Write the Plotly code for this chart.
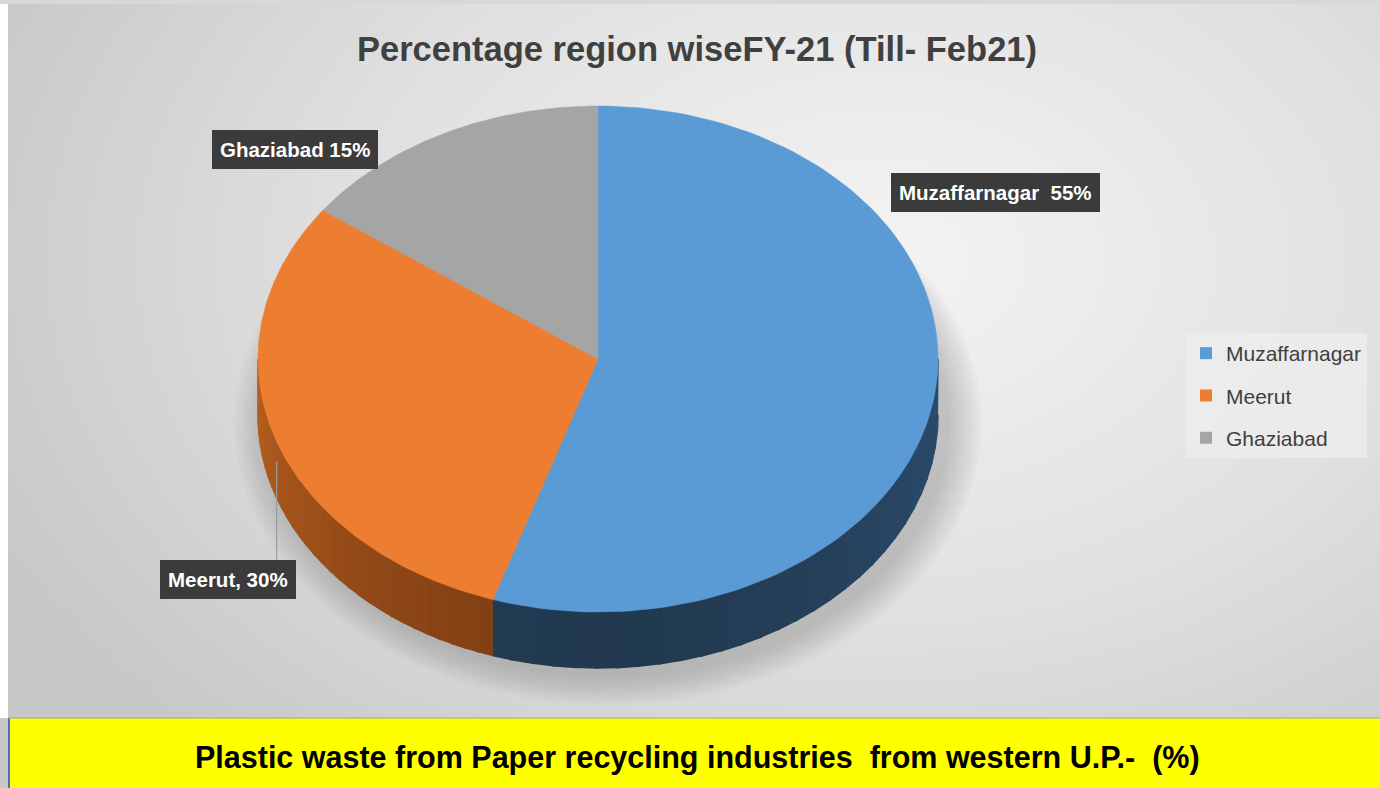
import numpy as np
import plotly.graph_objects as go

# Share of plastic waste by region, FY-21 (till Feb-21)
regions = ["Muzaffarnagar", "Meerut", "Ghaziabad"]
shares = [55, 30, 15]
label_texts = ["Muzaffarnagar  55%", "Meerut, 30%", "Ghaziabad 15%"]

top_colors = ["#5b9bd5", "#ed7d31", "#a5a5a5"]
side_dark = ["#22394f", "#7a3b12", "#6e6e6e"]
side_light = ["#2b4d6f", "#b8601f", "#8c8c8c"]

W, H = 1380, 788
FONT = "Liberation Sans, Arial, sans-serif"

# pie geometry (pixel space, y grows downward)
cx, cy, ra, rb, depth = 598, 359, 340, 253, 56


def ell(t_deg, dy=0.0):
    t = np.radians(t_deg)
    return cx + ra * np.sin(t), cy - rb * np.cos(t) + dy


def mix(c1, c2, f):
    a = [int(c1[i:i + 2], 16) for i in (1, 3, 5)]
    b = [int(c2[i:i + 2], 16) for i in (1, 3, 5)]
    return "rgb({},{},{})".format(*[round(a[k] + (b[k] - a[k]) * f) for k in range(3)])


fig = go.Figure()

# soft grey backdrop
gx = np.linspace(0, W, 40)
gy = np.linspace(0, H, 24)
GX, GY = np.meshgrid(gx, gy)
dist = np.sqrt(((GX - 880) / 880) ** 2 + ((GY - 260) / 600) ** 2)
fig.add_trace(go.Heatmap(
    x=gx, y=gy, z=np.clip(dist, 0, 1.1), zsmooth="best", showscale=False,
    colorscale=[[0, "#f4f4f4"], [0.55, "#e0e0e0"], [1, "#c8c8c8"]],
    zmin=0, zmax=1.1, hoverinfo="skip",
))

# shadow beneath the pie
for k in range(10):
    tt = np.linspace(0, 360, 200)
    sx = cx + 10 + (ra + 2 + k * 3.5) * np.sin(np.radians(tt))
    sy = cy + depth + 8 - (rb + 2 + k * 3) * np.cos(np.radians(tt))
    fig.add_trace(go.Scatter(
        x=sx, y=sy, fill="toself", mode="lines", line=dict(width=0),
        fillcolor="rgba(90,90,90,0.03)", hoverinfo="skip", showlegend=False,
    ))

# slice angle ranges, clockwise from 12 o'clock
bounds = np.concatenate([[0], np.cumsum(shares)]) / sum(shares) * 360.0

# visible side walls (front half: 90..270 degrees)
for i in range(len(regions)):
    t1, t2 = max(bounds[i], 90), min(bounds[i + 1], 270)
    if t2 <= t1:
        continue
    nseg = 30
    edges = np.linspace(t1, t2, nseg + 1)
    for s in range(nseg):
        ts = np.linspace(edges[s], edges[s + 1] + 0.4 * (s < nseg - 1), 8)
        xt, yt = ell(ts)
        xb, yb = ell(ts[::-1], depth)
        mid = (edges[s] + edges[s + 1]) / 2
        f = abs(mid - 180) / 90
        col = mix(side_dark[i], side_light[i], f ** 1.3)
        fig.add_trace(go.Scatter(
            x=np.concatenate([xt, xb]), y=np.concatenate([yt, yb]),
            fill="toself", mode="lines", line=dict(width=1.5, color=col),
            fillcolor=col, hoverinfo="skip", showlegend=False,
        ))

# top faces
for i in range(len(regions)):
    ts = np.linspace(bounds[i], bounds[i + 1], 120)
    xt, yt = ell(ts)
    fig.add_trace(go.Scatter(
        x=np.concatenate([[cx], xt, [cx]]), y=np.concatenate([[cy], yt, [cy]]),
        fill="toself", mode="lines", line=dict(width=0.5, color=top_colors[i]),
        fillcolor=top_colors[i], name=regions[i], showlegend=False,
        hovertemplate=f"{regions[i]}: {shares[i]}%<extra></extra>",
    ))

# legend entries
for i in range(len(regions)):
    fig.add_trace(go.Scatter(
        x=[None], y=[None], mode="markers", name=regions[i],
        marker=dict(symbol="square", size=14, color=top_colors[i]),
        legendgroup=regions[i],
    ))

# leader line for the Meerut label
mid_meerut = (bounds[1] + bounds[2]) / 2
lx, ly = ell(mid_meerut)

shapes = [
    dict(type="line", xref="x", yref="y", x0=float(lx) + 2, x1=float(lx) + 2,
         y0=float(ly) + 24, y1=561, line=dict(color="#9a9a9a", width=1.2)),
    # bottom banner
    dict(type="rect", xref="x", yref="y", x0=8, x1=W, y0=718, y1=H,
         fillcolor="#ffff00", line=dict(width=0)),
    dict(type="line", xref="x", yref="y", x0=9, x1=9, y0=718, y1=H,
         line=dict(color="#4472c4", width=2)),
    dict(type="line", xref="x", yref="y", x0=8, x1=W, y0=718, y1=718,
         line=dict(color="#9aa0a8", width=1)),
    # white frame strip along the left/top
    dict(type="rect", xref="x", yref="y", x0=0, x1=8, y0=0, y1=718,
         fillcolor="white", line=dict(width=0)),
    dict(type="rect", xref="x", yref="y", x0=0, x1=W, y0=0, y1=4,
         fillcolor="#d8d8d8", line=dict(width=0)),
]

label_pos = {
    "Muzaffarnagar": (891, 192),
    "Meerut": (160, 579),
    "Ghaziabad": (212, 149),
}
annotations = []
for i, r in enumerate(regions):
    x, y = label_pos[r]
    annotations.append(dict(
        x=x, y=y, xref="x", yref="y", xanchor="left", yanchor="middle",
        text=f"<b>{label_texts[i]}</b>", showarrow=False,
        font=dict(family=FONT, size=20.5, color="white"),
        bgcolor="#3b3b3b", borderpad=7, bordercolor="#3b3b3b",
    ))

annotations.append(dict(
    x=697, y=49, xref="x", yref="y", xanchor="center", yanchor="middle",
    text="<b>Percentage region wiseFY-21 (Till- Feb21)</b>", showarrow=False,
    font=dict(family=FONT, size=34.5, color="#404040"),
))
annotations.append(dict(
    x=697, y=757, xref="x", yref="y", xanchor="center", yanchor="middle",
    text="<b>Plastic waste from Paper recycling industries  from western U.P.-  (%)</b>",
    showarrow=False, font=dict(family=FONT, size=30.5, color="#000000"),
))

fig.update_layout(
    width=W, height=H, margin=dict(l=0, r=0, t=0, b=0),
    paper_bgcolor="white", plot_bgcolor="white",
    xaxis=dict(range=[0, W], visible=False, fixedrange=True),
    yaxis=dict(range=[H, 0], visible=False, fixedrange=True),
    shapes=shapes, annotations=annotations,
    legend=dict(
        x=1186 / W, y=1 - 333 / H, xanchor="left", yanchor="top",
        bgcolor="rgba(238,238,238,0.75)", borderwidth=0,
        font=dict(family=FONT, size=21, color="#404040"),
        tracegroupgap=12, itemsizing="constant",
    ),
    showlegend=True,
)

fig.write_html("out.html")
